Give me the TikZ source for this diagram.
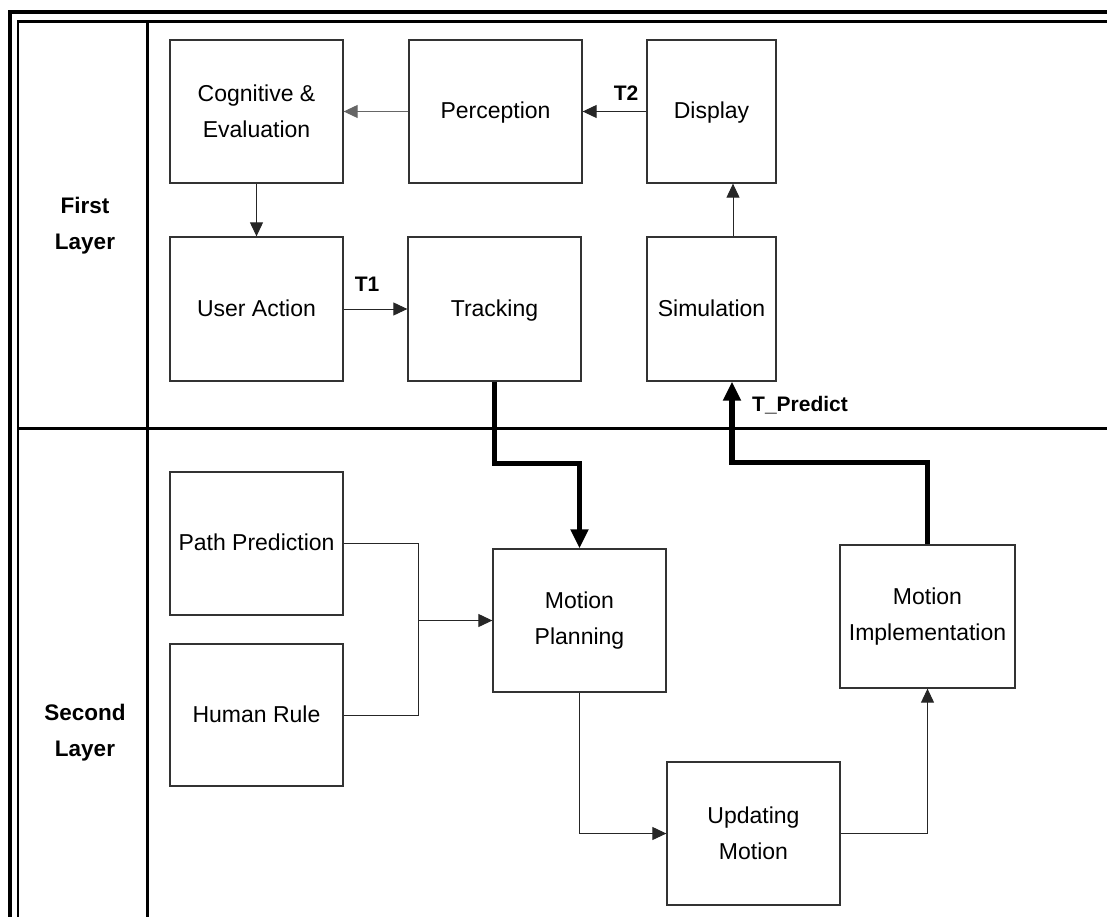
\documentclass[tikz,border=0pt]{standalone}
\usepackage{fontspec}
\setmainfont{Liberation Sans}
\usetikzlibrary{arrows.meta}
\begin{document}
\begin{tikzpicture}[x=1pt,y=-1pt,
  box/.style={draw=black!80, line width=1.3pt, inner sep=0pt, align=center,
    font=\fontsize{23}{36}\selectfont},
  oneline/.style={box, execute at begin node=\strut},
  layerlbl/.style={align=center, inner sep=0pt, font=\fontsize{22.5}{36}\selectfont\bfseries},
  tlabel/.style={inner sep=0pt, font=\fontsize{21}{25}\selectfont\bfseries},
  link/.style={draw=black!85, line width=1pt},
  conn/.style={link, -{Triangle[length=14pt,width=13pt]}},
  bigarrow/.style={draw=black, line width=5.5pt, -{Triangle[length=19pt,width=17pt]}},
]
\useasboundingbox (0,0) rectangle (1107,917);

% double outer frame and layer dividers
\draw[line width=4pt] (10,917) -- (10,12.5) -- (1107,12.5);
\draw[line width=2.8pt] (18,917) -- (18,21.5) -- (1107,21.5);
\draw[line width=3pt] (147,21.5) -- (147,917);
\draw[line width=3pt] (18,428) -- (1107,428);

% layer titles
\node[layerlbl] (l1) at (85,226) {First\\Layer};
\node[layerlbl] (l2) at (85,733) {Second\\Layer};

% first layer blocks
\node[box, minimum width=173pt, minimum height=143pt] (cog)  at (256.5,111.5) {Cognitive \&\\Evaluation};
\node[oneline, minimum width=173pt, minimum height=143pt] (perc) at (495.5,111.5) {Perception};
\node[oneline, minimum width=129pt, minimum height=143pt] (disp) at (711.5,111.5) {Display};
\node[oneline, minimum width=173pt, minimum height=144pt] (ua)   at (256.5,309)   {User Action};
\node[oneline, minimum width=173pt, minimum height=144pt] (track) at (494.5,309)  {Tracking};
\node[oneline, minimum width=129pt, minimum height=144pt] (sim)  at (711.5,309)   {Simulation};

% second layer blocks
\node[oneline, minimum width=173pt, minimum height=143pt] (pp)    at (256.5,543.5) {Path Prediction};
\node[oneline, minimum width=173pt, minimum height=142pt] (hr)    at (256.5,715)   {Human Rule};
\node[box, minimum width=173pt, minimum height=143pt] (mplan) at (579.5,620.5) {Motion\\Planning};
\node[box, minimum width=173pt, minimum height=143pt] (upd)   at (753.5,833.5) {Updating\\Motion};
\node[box, minimum width=175pt, minimum height=143pt] (mimpl) at (927.5,616.5) {Motion\\Implementation};

% first layer flow
\draw[conn] (disp.west) -- (perc.east);
\node[tlabel] (t2) at (626,93) {T2};
\draw[conn, draw=black!60] (perc.west) -- (cog.east);
\draw[conn] (cog.south) -- (ua.north);
\draw[conn] (ua.east) -- (track.west);
\node[tlabel] (t1) at (367,284) {T1};
\draw[conn] ([xshift=21.5pt]sim.north) -- ([xshift=21.5pt]disp.south);

% links between the layers
\draw[bigarrow] (track.south) -- ++(0,82) -| (mplan.north);
\draw[bigarrow] (mimpl.north) -- ++(0,-82) -| ([xshift=20.5pt]sim.south);
\node[tlabel, anchor=west] (tp) at (752,405) {T\_Predict};

% second layer flow
\coordinate (br) at (418,620.5);
\draw[link] (pp.east) -- ++(75,0) |- (hr.east);
\draw[conn] (br) -- (mplan.west);
\draw[conn] (mplan.south) |- (upd.west);
\draw[conn] (upd.east) -| (mimpl.south);
\end{tikzpicture}
\end{document}
